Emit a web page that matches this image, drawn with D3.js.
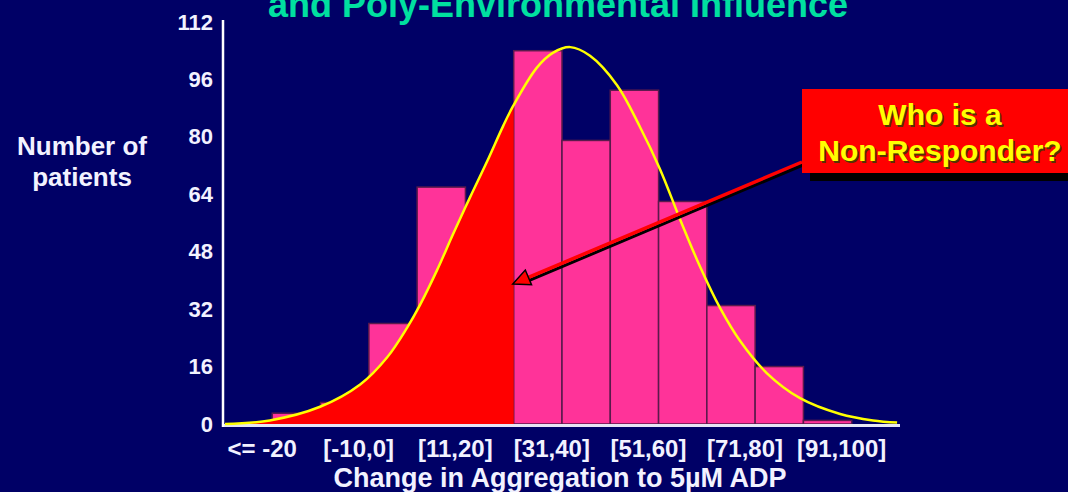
<!DOCTYPE html>
<html>
<head>
<meta charset="utf-8">
<script src="https://cdn.jsdelivr.net/npm/d3@7"></script>
<style>
  html, body { margin: 0; padding: 0; background: #000066; overflow: hidden; }
  svg { display: block; }
  text { font-family: "Liberation Sans", Arial, sans-serif; font-weight: bold; }
</style>
</head>
<body>
<div id="chart"></div>
<script>
// histogram bins (only every other bin is labelled on the slide)
const binLabels = ['<= -20', '', '[-10,0]', '', '[11,20]', '', '[31,40]', '', '[51,60]', '', '[71,80]', '', '[91,100]', ''];
const patientCounts = [0, 3, 6, 28, 66, 58, 104, 79, 93, 62, 33, 16, 1, 0];
const yTicks = [0, 16, 32, 48, 64, 80, 96, 112];

// fitted normal curve (x in bin units, y in patients)
const curveBin = [0.02, 0.95, 1.99, 2.82, 3.38, 3.79, 4.06, 4.41, 4.74, 5.09, 5.45, 5.78, 5.98, 6.48, 6.81,
  7.17, 7.58, 8.14, 8.61, 9.03, 9.44, 9.86, 10.27, 10.69, 11.24, 11.93, 12.76, 13.44, 13.94];
const curveCount = [0, 1.0, 4.8, 11, 18.6, 26.8, 33.2, 42.8, 52.8, 63, 73.2, 83, 88.4, 99.3, 103.4,
  105, 102.6, 94.4, 82.9, 71, 57.2, 43.8, 32.4, 23.1, 14.2, 7.2, 2.8, 1.0, 0.4];

const cutoffBin = 6;          // everything left of this is shaded as non-responders
const arrowTarget = { bin: 5.98, count: 39 };

const W = 1068, H = 492;
const svg = d3.select('#chart').append('svg')
  .attr('width', W).attr('height', H);

svg.append('rect').attr('width', W).attr('height', H).attr('fill', '#000066');

const x = d3.scaleBand()
  .domain(d3.range(binLabels.length))
  .range([224, 900])
  .padding(0);

const xPos = d3.scaleLinear()
  .domain([0, binLabels.length])
  .range([224, 900]);

const y = d3.scaleLinear()
  .domain([0, 112])
  .range([424, 22]);

// title (cut off at top of the slide)
svg.append('text')
  .attr('x', 558).attr('y', 17)
  .attr('text-anchor', 'middle')
  .attr('fill', '#00e0a0')
  .style('font-size', '36px')
  .text('and Poly-Environmental Influence');

// bars
svg.append('g')
  .selectAll('rect')
  .data(patientCounts)
  .join('rect')
  .attr('x', (d, i) => x(i))
  .attr('y', (d) => y(d))
  .attr('width', x.bandwidth())
  .attr('height', (d) => y(0) - y(d))
  .attr('fill', '#ff3399')
  .attr('stroke', (d) => (d > 0 ? '#5a1a4c' : 'none'))
  .attr('stroke-width', 1.5);

const pts = curveBin.map((b, i) => [b, curveCount[i]]);

// red shaded area under the curve
svg.append('clipPath').attr('id', 'cut')
  .append('rect')
  .attr('x', 0).attr('y', 0)
  .attr('width', xPos(cutoffBin)).attr('height', H);

svg.append('path')
  .datum(pts)
  .attr('clip-path', 'url(#cut)')
  .attr('fill', '#ff0000')
  .attr('d', d3.area()
    .x((d) => xPos(d[0]))
    .y0(y(0))
    .y1((d) => y(d[1]))
    .curve(d3.curveCatmullRom));

// axes
svg.append('line')
  .attr('x1', 223).attr('x2', 900)
  .attr('y1', y(0) + 1.5).attr('y2', y(0) + 1.5)
  .attr('stroke', '#e6e6f5').attr('stroke-width', 3);

svg.append('line')
  .attr('x1', 223).attr('x2', 223)
  .attr('y1', 20).attr('y2', y(0) + 3)
  .attr('stroke', '#ffffff').attr('stroke-width', 2.5);

// normal curve
svg.append('path')
  .datum(pts)
  .attr('fill', 'none')
  .attr('stroke', '#ffff00')
  .attr('stroke-width', 2.5)
  .attr('d', d3.line()
    .x((d) => xPos(d[0]))
    .y((d) => y(d[1]))
    .curve(d3.curveCatmullRom));

svg.append('g')
  .attr('transform', 'translate(223,0)')
  .call(d3.axisLeft(y).tickValues(yTicks).tickSize(0).tickPadding(10))
  .call((g) => g.select('.domain').remove())
  .call((g) => g.selectAll('text')
    .attr('fill', '#f2f2ff')
    .style('font-size', '22px')
    .style('font-family', '"Liberation Sans", Arial, sans-serif')
    .style('font-weight', 'bold'));

svg.append('g')
  .attr('transform', `translate(0,${y(0)})`)
  .call(d3.axisBottom(x)
    .tickValues(d3.range(binLabels.length).filter((i) => binLabels[i] !== ''))
    .tickFormat((i) => binLabels[i])
    .tickSize(0).tickPadding(16))
  .call((g) => g.select('.domain').remove())
  .call((g) => g.selectAll('text')
    .attr('dx', 14)
    .attr('fill', '#f2f2ff')
    .style('font-size', '24px')
    .style('font-family', '"Liberation Sans", Arial, sans-serif')
    .style('font-weight', 'bold'));

// axis titles
svg.append('text')
  .attr('x', 560).attr('y', 487)
  .attr('text-anchor', 'middle')
  .attr('fill', '#f2f2ff')
  .style('font-size', '27px')
  .text('Change in Aggregation to 5µM ADP');

const yTitle = svg.append('text')
  .attr('text-anchor', 'middle')
  .attr('fill', '#f2f2ff')
  .style('font-size', '26px');
yTitle.append('tspan').attr('x', 82).attr('y', 155).text('Number of');
yTitle.append('tspan').attr('x', 82).attr('y', 186).text('patients');

// callout arrow
const tip = [xPos(arrowTarget.bin), y(arrowTarget.count)];
const tail = [802, 162];
const len = Math.hypot(tail[0] - tip[0], tail[1] - tip[1]);
const ux = (tail[0] - tip[0]) / len;
const uy = (tail[1] - tip[1]) / len;
const base = [tip[0] + ux * 17, tip[1] + uy * 17];
const head = [tip, [base[0] - uy * 8, base[1] + ux * 8], [base[0] + uy * 8, base[1] - ux * 8]];

svg.append('line')
  .attr('x1', base[0] + 1).attr('y1', base[1] + 3)
  .attr('x2', tail[0] + 1).attr('y2', tail[1] + 3)
  .attr('stroke', '#000000').attr('stroke-width', 3);
svg.append('line')
  .attr('x1', base[0]).attr('y1', base[1])
  .attr('x2', tail[0]).attr('y2', tail[1])
  .attr('stroke', '#ff0000').attr('stroke-width', 3.5);
svg.append('polygon')
  .attr('points', head.map((p) => p.join(',')).join(' '))
  .attr('fill', '#ff0000')
  .attr('stroke', '#000000').attr('stroke-width', 1.5);

// callout box
svg.append('rect')
  .attr('x', 810).attr('y', 97).attr('width', 300).attr('height', 84)
  .attr('fill', '#000000');
svg.append('rect')
  .attr('x', 802).attr('y', 89).attr('width', 300).attr('height', 84)
  .attr('fill', '#ff0000');

const calloutLines = ['Who is a', 'Non-Responder?'];
calloutLines.forEach((t, i) => {
  svg.append('text')
    .attr('x', 941.5).attr('y', 126.5 + i * 36)
    .attr('text-anchor', 'middle')
    .attr('fill', '#553300')
    .style('font-size', '30px')
    .text(t);
  svg.append('text')
    .attr('x', 940).attr('y', 125 + i * 36)
    .attr('text-anchor', 'middle')
    .attr('fill', '#ffff00')
    .style('font-size', '30px')
    .text(t);
});
</script>
</body>
</html>
